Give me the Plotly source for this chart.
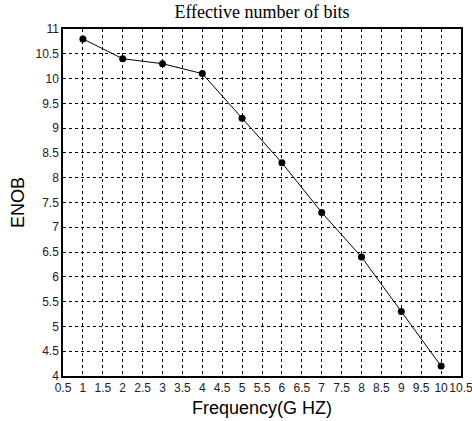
import plotly.graph_objects as go

freq = [1, 2, 3, 4, 5, 6, 7, 8, 9, 10]
enob = [10.8, 10.4, 10.3, 10.1, 9.2, 8.3, 7.3, 6.4, 5.3, 4.2]
x_ticks = [0.5 + 0.5 * i for i in range(21)]
y_ticks = [4 + 0.5 * i for i in range(15)]

fig = go.Figure()
fig.add_trace(go.Scatter(
    x=freq, y=enob, mode="lines+markers",
    line=dict(color="black", width=1),
    marker=dict(color="black", size=7, symbol="circle"),
    showlegend=False, cliponaxis=False,
))

axis_common = dict(
    showgrid=True, gridcolor="black", griddash="3px,3px", gridwidth=1,
    showline=True, linecolor="black", linewidth=1.5, mirror=True,
    ticks="", automargin=False, tickangle=0,
    tickfont=dict(family="Liberation Sans, Arial", size=12, color="#222"),
    ticklabeloverflow="allow",
    zeroline=False,
)

fig.update_layout(
    width=472, height=421,
    margin=dict(l=63, r=11, t=29, b=45),
    paper_bgcolor="white", plot_bgcolor="white",
    title=dict(text="Effective number of bits", x=0.5, xref="paper", xanchor="center",
               y=1 - 12 / 421, yanchor="middle",
               font=dict(family="Liberation Serif, Times New Roman", size=18, color="black")),
    xaxis=dict(range=[0.5, 10.5], tickvals=x_ticks,
               ticktext=[("%g" % v) for v in x_ticks],
               title=dict(text="Frequency(G HZ)", standoff=7,
                          font=dict(family="Liberation Sans, Arial", size=18, color="black")),
               ticklabelstandoff=0,
               **axis_common),
    yaxis=dict(range=[4, 11], tickvals=y_ticks,
               ticktext=[("%g" % v) for v in y_ticks],
               title=dict(text="ENOB", standoff=6,
                          font=dict(family="Liberation Sans, Arial", size=18, color="black")),
               **axis_common),
)

fig.write_html("out.html", config={"displayModeBar": False},
               post_script="document.body.style.margin='0';document.body.style.overflow='hidden';")
